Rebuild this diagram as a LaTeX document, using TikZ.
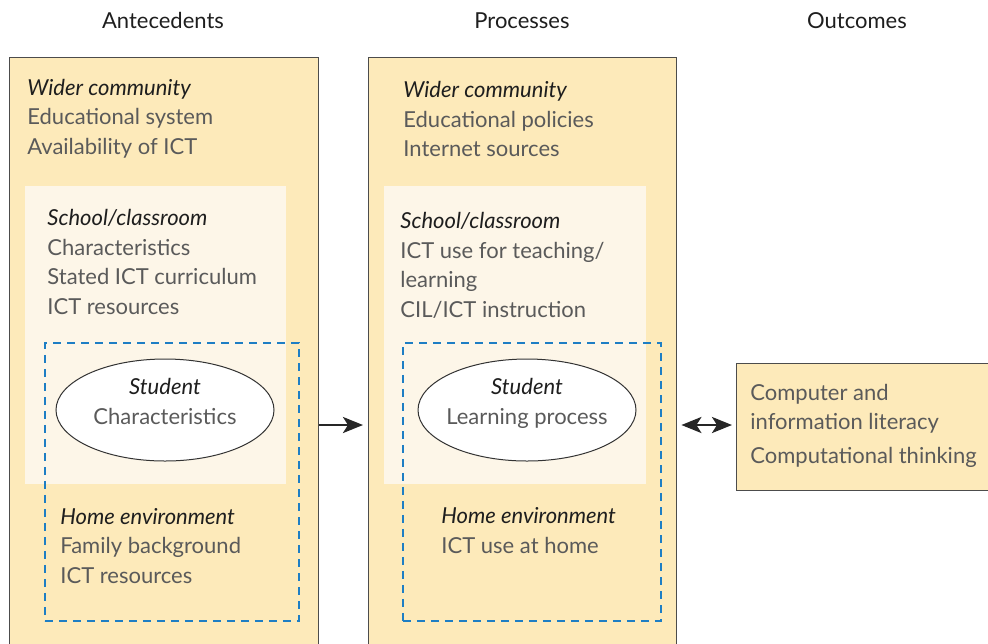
\documentclass[tikz,border=0pt]{standalone}
\usepackage{fontspec}
\setmainfont{Lato}
\usetikzlibrary{positioning,calc,arrows.meta,shapes.geometric}
\definecolor{outerFill}{RGB}{253,234,186}
\definecolor{innerFill}{RGB}{253,246,232}
\definecolor{dashBlue}{RGB}{30,126,196}
\definecolor{bodyGray}{RGB}{90,90,90}
\definecolor{headDark}{RGB}{30,30,30}
\newcommand{\bodyfont}{\fontsize{11}{14.75}\selectfont}
\newcommand{\heading}[1]{{\color{headDark}\itshape #1}}
\tikzset{
    panel/.style={
        draw=black!70,
        line width=0.7pt,
        fill=outerFill,
        anchor=north west,
        inner sep=0pt
    },
    schoolpanel/.style={
        fill=innerFill,
        anchor=north west,
        inner sep=0pt
    },
    homepanel/.style={
        draw=dashBlue,
        line width=0.8pt,
        dash pattern=on 4pt off 3pt,
        anchor=north west,
        inner sep=0pt
    },
    student/.style={
        ellipse,
        draw=black!80,
        line width=0.5pt,
        fill=white,
        minimum width=109pt,
        minimum height=51pt,
        inner sep=0pt
    },
    itemtext/.style={
        anchor=base west,
        align=left,
        inner sep=0pt,
        text=bodyGray,
        font=\bodyfont
    },
    colhead/.style={
        anchor=base,
        inner sep=0pt,
        text=headDark,
        font=\bodyfont
    },
    ptr/.style={
        -{Stealth[length=10pt, width=8pt, inset=2.5pt]},
        line width=1.4pt,
        black!85
    },
    dptr/.style={
        {Stealth[length=10pt, width=8pt, inset=2.5pt]}-{Stealth[length=10pt, width=8pt, inset=2.5pt]},
        line width=1.4pt,
        black!85
    }
}

\begin{document}
\begin{tikzpicture}[x=0.5pt, y=-0.5pt]
    \clip (0,0) rectangle (988,643);

    % Spaltenköpfe
    \node[colhead] (head_ante) at (163,28) {Antecedents};
    \node[colhead] (head_proc) at (522,28) {Processes};
    \node[colhead] (head_out) at (857,28) {Outcomes};

    % Antecedents (Textknoten: base = letzte Zeile)
    \node[panel, minimum width=154.5pt, minimum height=310pt] (ante_box) at (9,57) {};
    \node[schoolpanel, minimum width=130.5pt, minimum height=149pt] (ante_school) at (25,186) {};
    \node[homepanel, minimum width=127pt, minimum height=139pt] (ante_home) at (44,342) {};
    \node[student] (ante_student) at (165,410) {};
    \node[itemtext] (ante_wider_txt) at (27,154)
        {\heading{Wider community}\\Educational system\\Availability of ICT};
    \node[itemtext] (ante_school_txt) at (47,314)
        {\heading{School/classroom}\\Characteristics\\Stated ICT curriculum\\ICT resources};
    \node[itemtext, align=center, anchor=base] (ante_student_txt) at ($(ante_student.center)+(0,14)$)
        {\heading{Student}\\Characteristics};
    \node[itemtext] (ante_home_txt) at (60,583)
        {\heading{Home environment}\\Family background\\ICT resources};

    % Processes
    \node[panel, minimum width=154pt, minimum height=310pt] (proc_box) at (368,57) {};
    \node[schoolpanel, minimum width=131pt, minimum height=149pt] (proc_school) at (384,186) {};
    \node[homepanel, minimum width=129pt, minimum height=139pt] (proc_home) at (402,342) {};
    \node[student] (proc_student) at (527,410) {};
    \node[itemtext] (proc_wider_txt) at (403,156.5)
        {\heading{Wider community}\\Educational policies\\Internet sources};
    \node[itemtext] (proc_school_txt) at (400,317)
        {\heading{School/classroom}\\ICT use for teaching/\\learning\\CIL/ICT instruction};
    \node[itemtext, align=center, anchor=base] (proc_student_txt) at ($(proc_student.center)+(0,14)$)
        {\heading{Student}\\Learning process};
    \node[itemtext] (proc_home_txt) at (441,553)
        {\heading{Home environment}\\ICT use at home};

    % Outcomes
    \node[panel, minimum width=130pt, minimum height=63.5pt] (out_box) at (736,363) {};
    \node[itemtext] (out_txt) at (750,463)
        {Computer and\\information literacy\\[2pt]Computational thinking};

    % Pfeile
    \coordinate (ante_arrow) at (ante_box.east |- 0,425);
    \coordinate (proc_arrow) at (proc_box.west |- 0,425);
    \coordinate (proc_out) at (proc_box.east |- 0,425);
    \coordinate (out_in) at (out_box.west |- 0,425);
    \draw[ptr] (ante_arrow) -- ([xshift=-2.5pt]proc_arrow);
    \draw[dptr] ([xshift=2pt]proc_out) -- ([xshift=-2pt]out_in);
\end{tikzpicture}
\end{document}
